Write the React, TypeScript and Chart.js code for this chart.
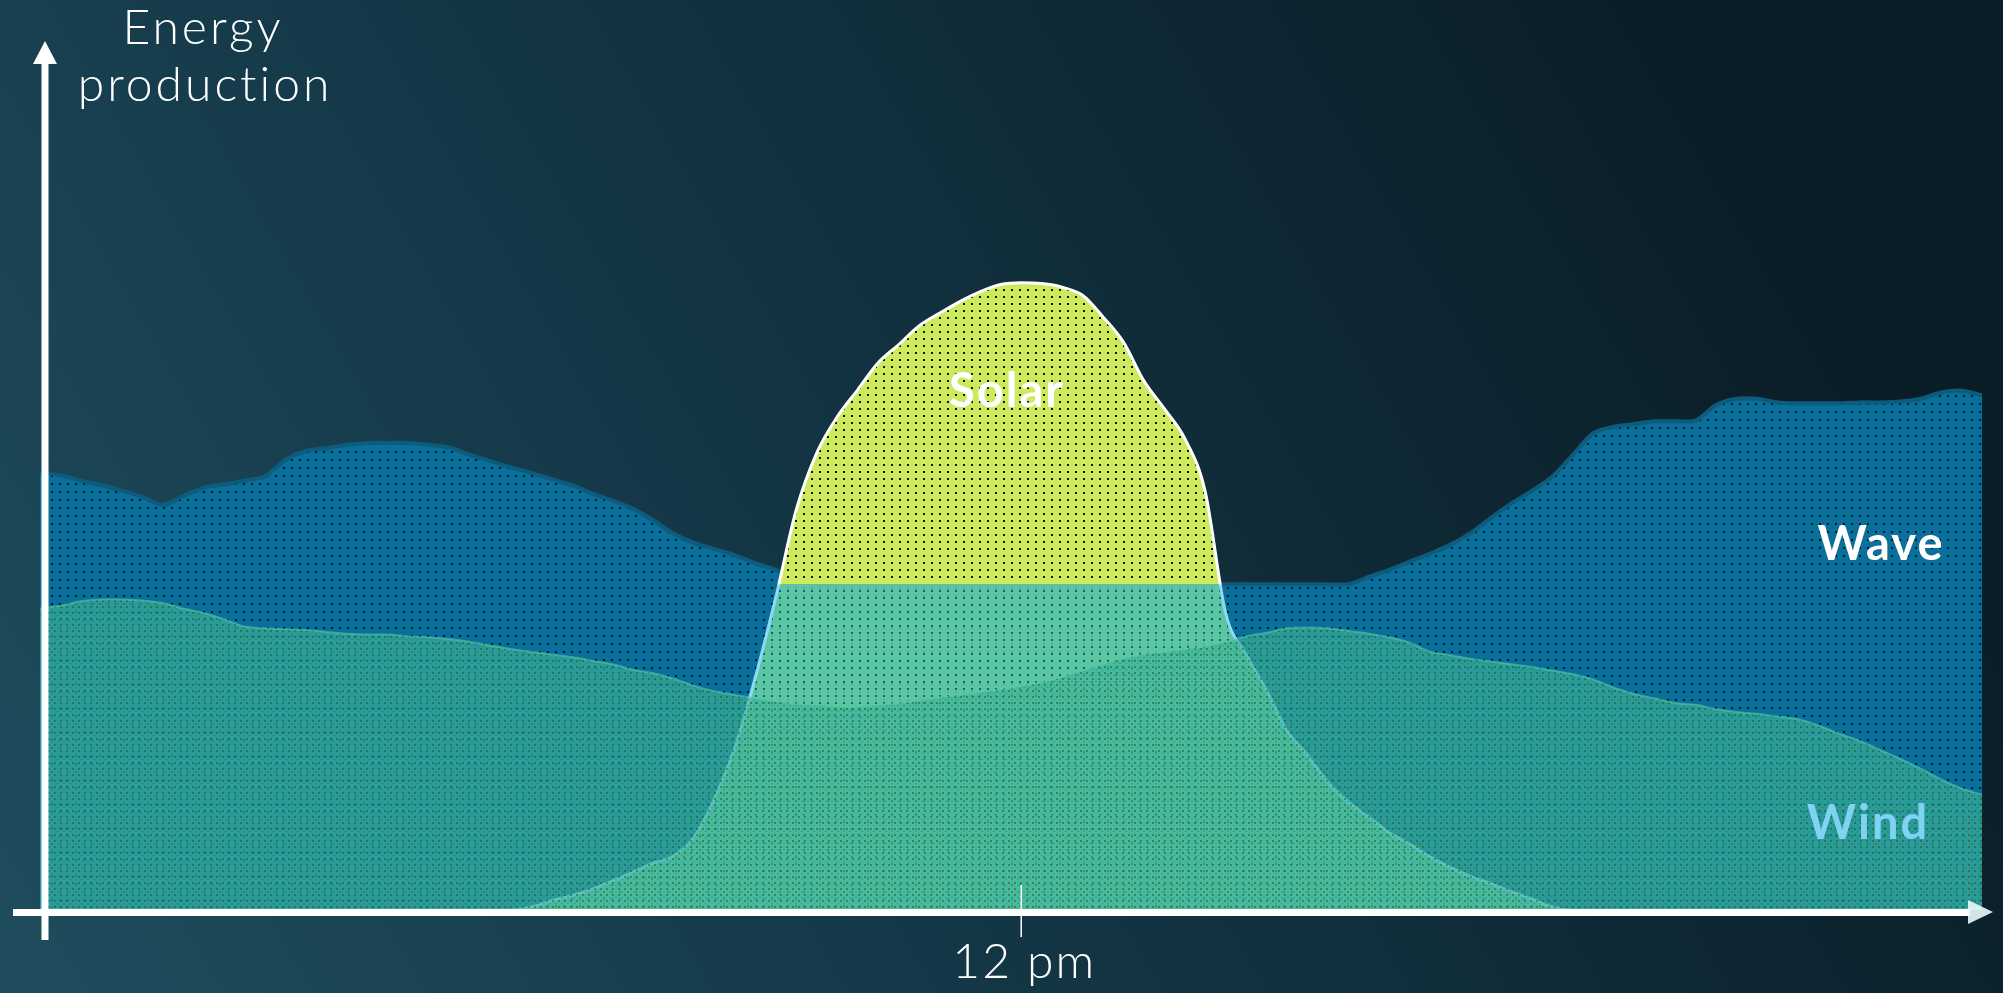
import { useEffect, useRef } from "react";
import { Chart, registerables } from "chart.js";

Chart.register(...registerables);

// Time of day, every 15 minutes
const timeLabels = [
  "00:00","00:15","00:30","00:45","01:00","01:15","01:30","01:45",
  "02:00","02:15","02:30","02:45","03:00","03:15","03:30","03:45",
  "04:00","04:15","04:30","04:45","05:00","05:15","05:30","05:45",
  "06:00","06:15","06:30","06:45","07:00","07:15","07:30","07:45",
  "08:00","08:15","08:30","08:45","09:00","09:15","09:30","09:45",
  "10:00","10:15","10:30","10:45","11:00","11:15","11:30","11:45",
  "12:00","12:15","12:30","12:45","13:00","13:15","13:30","13:45",
  "14:00","14:15","14:30","14:45","15:00","15:15","15:30","15:45",
  "16:00","16:15","16:30","16:45","17:00","17:15","17:30","17:45",
  "18:00","18:15","18:30","18:45","19:00","19:15","19:30","19:45",
  "20:00","20:15","20:30","20:45","21:00","21:15","21:30","21:45",
  "22:00","22:15","22:30","22:45","23:00","23:15","23:30","23:45",
];

// Wave production (top of the blue area)
const waveValues = [
  48.6, 48.3, 47.7, 47.2, 46.6, 45.9, 45.0, 46.0, 46.9, 47.3, 47.7, 48.2,
  50.0, 51.0, 51.3, 51.7, 51.9, 51.9, 51.9, 51.7, 51.4, 50.6, 49.9, 49.2,
  48.6, 47.9, 47.2, 46.3, 45.5, 44.6, 43.3, 41.8, 40.8, 40.1, 39.4, 38.5,
  37.8, 36.6, 36.2, 36.2, 36.2, 36.2, 36.2, 36.2, 36.2, 36.2, 36.2, 36.2,
  36.2, 36.2, 36.2, 36.2, 36.2, 36.2, 36.2, 36.2, 36.2, 36.2, 36.2, 36.2,
  36.2, 36.2, 36.2, 36.2, 36.2, 37.0, 37.8, 38.7, 39.6, 40.6, 41.9, 43.6,
  45.2, 46.6, 48.2, 50.6, 53.0, 53.7, 54.0, 54.3, 54.3, 54.4, 56.1, 56.8,
  56.8, 56.4, 56.3, 56.3, 56.3, 56.4, 56.4, 56.5, 56.8, 57.5, 57.7, 57.2,
];

// Wind production
const windValues = [
  33.5, 33.8, 34.3, 34.5, 34.5, 34.4, 34.1, 33.5, 33.0, 32.3, 31.5, 31.3,
  31.2, 31.1, 30.9, 30.7, 30.6, 30.6, 30.4, 30.3, 30.1, 29.8, 29.4, 29.0,
  28.7, 28.4, 28.1, 27.7, 27.3, 26.7, 26.3, 25.7, 24.9, 24.3, 23.9, 23.5,
  23.2, 22.9, 22.8, 22.6, 22.6, 22.8, 23.0, 23.3, 23.6, 23.9, 24.2, 24.5,
  24.9, 25.3, 25.9, 26.6, 27.3, 28.0, 28.4, 28.7, 29.0, 29.3, 29.8, 30.4,
  30.8, 31.3, 31.4, 31.3, 31.0, 30.7, 30.3, 29.7, 28.7, 28.3, 27.9, 27.6,
  27.3, 27.0, 26.6, 26.2, 25.6, 24.7, 24.0, 23.5, 23.0, 22.8, 22.3, 22.0,
  21.8, 21.5, 21.2, 20.5, 19.6, 18.8, 17.8, 16.8, 15.7, 14.5, 13.5, 12.8,
];

// Solar production
const solarValues = [
  0, 0, 0, 0, 0, 0, 0, 0, 0, 0, 0, 0,
  0, 0, 0, 0, 0, 0, 0, 0, 0, 0, 0, 0,
  0.3, 1.0, 1.6, 2.3, 3.2, 4.2, 5.2, 6.0, 8.1, 12.4, 18.1, 25.9,
  34.8, 44.5, 50.8, 54.8, 57.8, 60.8, 62.8, 64.9, 66.3, 67.6, 68.7, 69.5,
  69.7, 69.6, 69.2, 68.3, 65.9, 63.1, 58.8, 55.7, 52.4, 46.5, 33.0, 28.4,
  24.4, 19.9, 17.2, 14.2, 12.0, 10.3, 8.6, 7.3, 5.9, 4.7, 3.7, 2.9,
  2.0, 1.2, 0.3, 0, 0, 0, 0, 0, 0, 0, 0, 0,
  0, 0, 0, 0, 0, 0, 0, 0, 0, 0, 0, 0,
];

const seriesNames = ["Wind", "Solar", "Wave"];
const noonLabel = "12:00";
const noonTickText = "12 pm";
const yTitleLines = ["Energy", "production"];

function makeTile(w: number, h: number, draw: (g: CanvasRenderingContext2D) => void) {
  const c = document.createElement("canvas");
  c.width = w;
  c.height = h;
  const g = c.getContext("2d")!;
  draw(g);
  return c;
}

export default function App() {
  const ref = useRef<HTMLCanvasElement>(null);

  useEffect(() => {
    const canvas = ref.current!;
    const ctx = canvas.getContext("2d")!;
    const noonIndex = timeLabels.indexOf(noonLabel);

    const wavePattern = ctx.createPattern(
      makeTile(8, 8, (g) => {
        g.fillStyle = "#0a6f9b";
        g.fillRect(0, 0, 8, 8);
        g.fillStyle = "rgba(2,18,28,0.9)";
        g.fillRect(3, 3, 2, 2);
      }),
      "repeat"
    )!;

    const windPattern = ctx.createPattern(
      makeTile(6, 6, (g) => {
        g.fillStyle = "rgba(58,182,148,0.64)";
        g.fillRect(0, 0, 6, 6);
        g.fillStyle = "rgba(60,70,25,0.5)";
        g.fillRect(0, 0, 2, 2);
        g.fillStyle = "rgba(30,120,200,0.45)";
        g.fillRect(3, 3, 2, 1);
      }),
      "repeat"
    )!;

    let solarCache: { split: number; pattern: CanvasPattern | null; grad: CanvasGradient | null } = {
      split: -1,
      pattern: null,
      grad: null,
    };

    const ensureSolar = (chart: any) => {
      const split = Math.round(chart.scales.y.getPixelForValue(waveValues[noonIndex]));
      if (solarCache.split === split && solarCache.pattern) return solarCache;
      const H = chart.height;
      const tile = makeTile(8, H, (g) => {
        g.fillStyle = "#cdea5c";
        g.fillRect(0, 0, 8, split);
        g.fillStyle = "rgba(120,228,164,0.74)";
        g.fillRect(0, split, 8, H - split);
        for (let y = 2; y < H; y += 7) {
          if (y + 2 <= split) {
            g.fillStyle = "rgba(0,0,0,0.9)";
            g.fillRect(3, y, 2, 2);
          } else if (y >= split) {
            g.fillStyle = "rgba(10,80,130,0.85)";
            g.fillRect(3, y, 2, 2);
          }
        }
      });
      const pattern = chart.ctx.createPattern(tile, "repeat");
      const grad = chart.ctx.createLinearGradient(0, 0, 0, H);
      const s = Math.min(0.999, split / H);
      grad.addColorStop(0, "#ffffff");
      grad.addColorStop(s, "#ffffff");
      grad.addColorStop(s + 0.001, "#8fd8f7");
      grad.addColorStop(1, "#8fd8f7");
      solarCache = { split, pattern, grad };
      return solarCache;
    };

    const solarFill = (c: any) => {
      const chart = c.chart;
      if (!chart.chartArea) return "#cdea5c";
      return ensureSolar(chart).pattern;
    };
    const solarBorder = (c: any) => {
      const chart = c.chart;
      if (!chart.chartArea) return "#ffffff";
      return ensureSolar(chart).grad;
    };

    const backgroundPlugin = {
      id: "bg",
      beforeDraw(chart: any) {
        const g = chart.ctx;
        const { width, height } = chart;
        g.save();
        const grad = g.createLinearGradient(0, height, width * 0.85, 0);
        grad.addColorStop(0, "#1f4d5e");
        grad.addColorStop(0.45, "#133645");
        grad.addColorStop(1, "#0a1c25");
        g.fillStyle = grad;
        g.fillRect(0, 0, width, height);
        g.restore();
      },
    };

    const overlayPlugin = {
      id: "overlay",
      afterDatasetsDraw(chart: any) {
        const g = chart.ctx;
        const { chartArea, scales } = chart;
        const xAxisY = chartArea.bottom + 2;
        const yAxisX = chartArea.left + 5;
        g.save();
        g.fillStyle = "#ffffff";
        // y axis with arrow
        g.fillRect(yAxisX - 3.5, 62, 7, 940 - 62);
        g.beginPath();
        g.moveTo(yAxisX - 12, 64);
        g.lineTo(yAxisX + 12, 64);
        g.lineTo(yAxisX, 41);
        g.closePath();
        g.fill();
        // x axis with arrow
        g.fillRect(13, xAxisY - 3, 1970 - 13, 7);
        g.fillStyle = "rgba(235,250,250,0.9)";
        g.beginPath();
        g.moveTo(1968, xAxisY - 12);
        g.lineTo(1968, xAxisY + 12);
        g.lineTo(1993, xAxisY);
        g.closePath();
        g.fill();
        // noon tick
        const noonX = scales.x.getPixelForValue(timeLabels.indexOf(noonLabel));
        g.strokeStyle = "#ffffff";
        g.lineWidth = 1.5;
        g.beginPath();
        g.moveTo(noonX, 885);
        g.lineTo(noonX, 937);
        g.stroke();

        g.textAlign = "center";
        g.textBaseline = "alphabetic";
        g.fillStyle = "#ffffff";
        g.font = "300 48px Lato, 'Open Sans', sans-serif";
        (g as any).letterSpacing = "2px";
        g.fillText(noonTickText, noonX + 3, 978);
        (g as any).letterSpacing = "3px";
        g.fillText(yTitleLines[0], 203, 44);
        g.fillText(yTitleLines[1], 205, 101);

        // series labels
        g.textBaseline = "middle";
        g.font = "bold 47px Lato, 'Open Sans', sans-serif";
        (g as any).letterSpacing = "2px";
        g.fillStyle = "#ffffff";
        g.fillText(seriesNames[1], 1007, 392);
        g.fillText(seriesNames[2], 1881, 545);
        g.fillStyle = "#80d2f3";
        g.fillText(seriesNames[0], 1868, 824);
        g.restore();
      },
    };

    const chart = new Chart(canvas, {
      type: "line",
      data: {
        labels: timeLabels,
        datasets: [
          {
            label: seriesNames[0],
            data: windValues,
            fill: "origin",
            backgroundColor: windPattern as any,
            borderColor: "rgba(90,205,170,0.55)",
            borderWidth: 2,
            pointRadius: 0,
            tension: 0.3,
            order: 0,
          },
          {
            label: seriesNames[1],
            data: solarValues,
            fill: "origin",
            backgroundColor: solarFill as any,
            borderColor: solarBorder as any,
            borderWidth: 3,
            pointRadius: 0,
            cubicInterpolationMode: "monotone",
            order: 1,
          },
          {
            label: seriesNames[2],
            data: waveValues,
            fill: "origin",
            backgroundColor: wavePattern as any,
            borderColor: "#0d5c7e",
            borderWidth: 4,
            pointRadius: 0,
            tension: 0.3,
            order: 2,
          },
        ],
      },
      options: {
        animation: false,
        responsive: false,
        events: [],
        layout: { padding: { left: 40, right: 21, top: 10, bottom: 83 } },
        scales: {
          x: { display: false },
          y: { display: false, min: 0, max: 100 },
        },
        plugins: {
          legend: { display: false },
          tooltip: { enabled: false },
        },
      },
      plugins: [backgroundPlugin, overlayPlugin],
    });

    return () => chart.destroy();
  }, []);

  return (
    <div style={{ position: "fixed", left: 0, top: 0, width: 2003, height: 993, background: "#133645" }}>
      <canvas ref={ref} width={2003} height={993} style={{ width: 2003, height: 993, display: "block" }} />
    </div>
  );
}
